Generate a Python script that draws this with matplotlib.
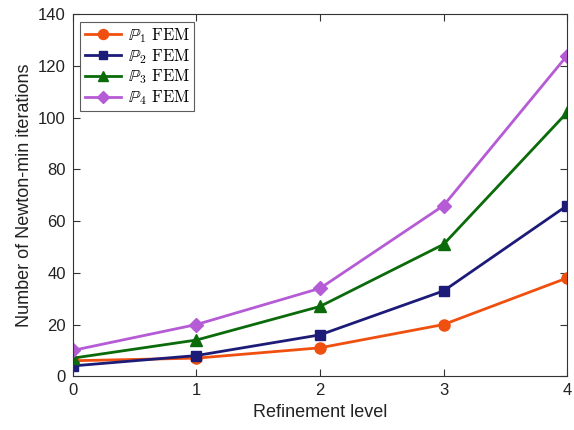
import matplotlib
matplotlib.use("Agg")
import matplotlib.pyplot as plt

levels = [0, 1, 2, 3, 4]
p1 = [6, 7, 11, 20, 38]
p2 = [4, 8, 16, 33, 66]
p3 = [7, 14, 27, 51, 102]
p4 = [10, 20, 34, 66, 124]
labels = [r"$\mathbb{P}_1\ \mathrm{FEM}$", r"$\mathbb{P}_2\ \mathrm{FEM}$",
          r"$\mathbb{P}_3\ \mathrm{FEM}$", r"$\mathbb{P}_4\ \mathrm{FEM}$"]

plt.rcParams['font.family'] = ['Liberation Sans', 'DejaVu Sans']
plt.rcParams['mathtext.fontset'] = 'cm'

fig = plt.figure(figsize=(5.74, 4.30), dpi=100)
ax = fig.add_axes([0.127, 0.125, 0.861, 0.842])

styles = [
    (p1, '#F0500F', 'o', 8),
    (p2, '#1C1C78', 's', 7),
    (p3, '#0B6B0B', '^', 8),
    (p4, '#B55BD5', 'D', 7),
]
for (ys, c, m, ms), lab in zip(styles, labels):
    ax.plot(levels, ys, color=c, marker=m, markersize=ms, linewidth=2, label=lab)

ax.set_xlim(0, 4)
ax.set_ylim(0, 140)
ax.set_xticks([0, 1, 2, 3, 4])
ax.set_yticks(range(0, 141, 20))
ax.tick_params(direction='in', top=True, right=True, labelsize=12, length=5,
               color='#333333', labelcolor='#222222', pad=5)
for s in ax.spines.values():
    s.set_color('#333333')
    s.set_linewidth(0.8)
ax.set_xlabel('Refinement level', fontsize=13, color='#222222')
ax.set_ylabel('Number of Newton-min iterations', fontsize=13, color='#222222')

leg = ax.legend(loc='upper left', fontsize=12, frameon=True, fancybox=False,
                edgecolor='#333333', handlelength=2.2, borderpad=0.25,
                labelspacing=0.12, handletextpad=0.4, borderaxespad=0.45,
                markerscale=0.9)
leg.get_frame().set_linewidth(0.8)

fig.savefig('out.png', dpi=100)
